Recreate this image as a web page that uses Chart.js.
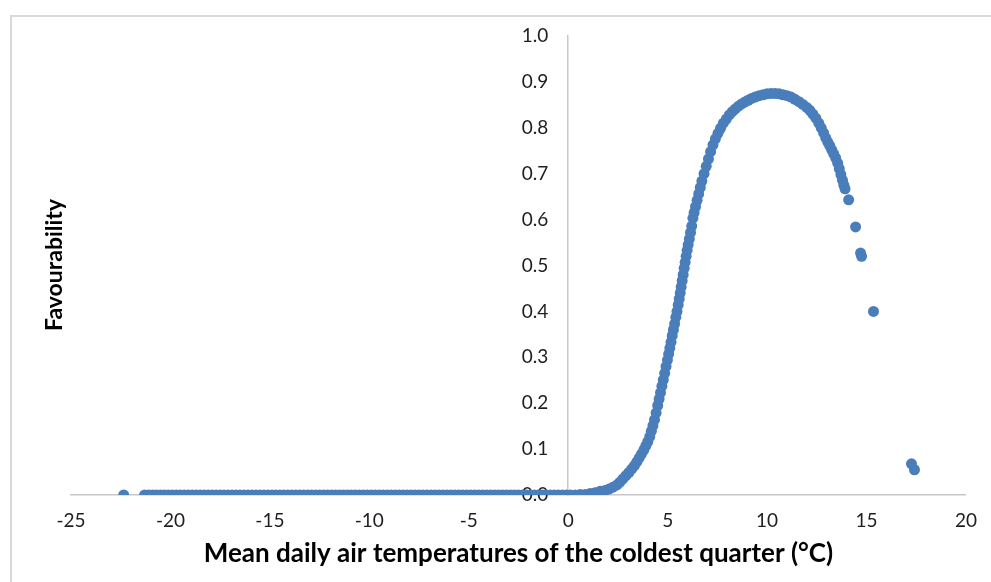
<!DOCTYPE html>
<html>
<head>
<meta charset="utf-8">
<title>Favourability vs coldest quarter temperature</title>
<script src="https://cdn.jsdelivr.net/npm/chart.js@4.4.1/dist/chart.umd.min.js"></script>
<style>
  html, body { margin: 0; padding: 0; background: #fff; }
  #wrap { position: relative; width: 991px; height: 582px; overflow: hidden; }
  #frame {
    position: absolute; left: 10px; top: 15px; width: 1000px; height: 620px;
    border: 2px solid #d9d9d9; box-sizing: border-box; pointer-events: none;
  }
  canvas { position: absolute; left: 0; top: 0; }
</style>
</head>
<body>
<div id="wrap">
  <canvas id="fav-chart" width="991" height="582"></canvas>
  <div id="frame"></div>
</div>
<script>
// cold tail: favourability sits on zero
const flatTemps = [
  -22.35, -21.3, -21.1, -20.9, -20.7, -20.5, -20.3, -20.1, -19.9, -19.7, -19.5, -19.3,
  -19.1, -18.9, -18.7, -18.5, -18.3, -18.1, -17.9, -17.7, -17.5, -17.3, -17.1, -16.9,
  -16.7, -16.5, -16.3, -16.1, -15.9, -15.7, -15.5, -15.3, -15.1, -14.9, -14.7, -14.5,
  -14.3, -14.1, -13.9, -13.7, -13.5, -13.3, -13.1, -12.9, -12.7, -12.5, -12.3, -12.1,
  -11.9, -11.7, -11.5, -11.3, -11.1, -10.9, -10.7, -10.5, -10.3, -10.1, -9.9, -9.7,
  -9.5, -9.3, -9.1, -8.9, -8.7, -8.5, -8.3, -8.1, -7.9, -7.7, -7.5, -7.3,
  -7.1, -6.9, -6.7, -6.5, -6.3, -6.1, -5.9, -5.7, -5.5, -5.3, -5.1, -4.9,
  -4.7, -4.5, -4.3, -4.1, -3.9, -3.7, -3.5, -3.3, -3.1, -2.9, -2.7, -2.5,
  -2.3, -2.1, -1.9, -1.7, -1.5, -1.3, -1.1, -0.9, -0.7, -0.5, -0.3, -0.1
];
const flatFavour = [
  0, 0, 0, 0, 0, 0, 0, 0, 0, 0, 0, 0,
  0, 0, 0, 0, 0, 0, 0, 0, 0, 0, 0, 0,
  0, 0, 0, 0, 0, 0, 0, 0, 0, 0, 0, 0,
  0, 0, 0, 0, 0, 0, 0, 0, 0, 0, 0, 0,
  0, 0, 0, 0, 0, 0, 0, 0, 0, 0, 0, 0,
  0, 0, 0, 0, 0, 0, 0, 0, 0, 0, 0, 0,
  0, 0, 0, 0, 0, 0, 0, 0, 0, 0, 0, 0,
  0, 0, 0, 0, 0, 0, 0, 0, 0, 0, 0, 0,
  0, 0, 0, 0, 0, 0, 0, 0, 0, 0, 0, 0
];

// warm side: rise, peak around 10 °C, drop-off
const curveTemps = [
  0.1, 0.35, 0.6, 0.85, 1.1, 1.35, 1.6, 1.85, 2.05, 2.25, 2.45, 2.6,
  2.75, 2.9, 3.05, 3.2, 3.33, 3.45, 3.57, 3.68, 3.8, 3.9, 4.0, 4.1,
  4.18, 4.26, 4.34, 4.42, 4.5, 4.57, 4.64, 4.71, 4.78, 4.85, 4.92, 4.99,
  5.05, 5.11, 5.17, 5.23, 5.29, 5.35, 5.41, 5.47, 5.53, 5.58, 5.63, 5.68,
  5.73, 5.78, 5.83, 5.88, 5.93, 5.98, 6.03, 6.09, 6.15, 6.21, 6.27, 6.33,
  6.40, 6.48, 6.56, 6.64, 6.72, 6.83, 6.94, 7.05, 7.16, 7.28, 7.40, 7.53,
  7.66, 7.80, 7.95, 8.10, 8.25, 8.40, 8.56, 8.72, 8.88, 9.05, 9.22, 9.40,
  9.60, 9.80, 10.0, 10.2, 10.4, 10.6, 10.8, 11.0, 11.2, 11.4, 11.6, 11.8,
  12.0, 12.15, 12.3, 12.45, 12.6, 12.72, 12.84, 12.95, 13.05, 13.15, 13.25, 13.35,
  13.45, 13.55, 13.63, 13.71, 13.79, 13.86, 13.92, 14.1, 14.45, 14.7, 14.75, 15.35,
  17.26, 17.41
];
const curveFavour = [
  0.000, 0.000, 0.001, 0.001, 0.003, 0.005, 0.008, 0.010, 0.013, 0.017, 0.022, 0.028,
  0.035, 0.042, 0.049, 0.057, 0.064, 0.072, 0.081, 0.089, 0.098, 0.107, 0.116, 0.127,
  0.139, 0.151, 0.164, 0.179, 0.195, 0.209, 0.223, 0.237, 0.251, 0.265, 0.280, 0.294,
  0.307, 0.320, 0.333, 0.347, 0.360, 0.373, 0.387, 0.400, 0.414, 0.427, 0.440, 0.453,
  0.467, 0.480, 0.494, 0.507, 0.520, 0.533, 0.545, 0.558, 0.572, 0.586, 0.603, 0.615,
  0.628, 0.642, 0.656, 0.670, 0.684, 0.700, 0.716, 0.732, 0.748, 0.763, 0.776, 0.788,
  0.799, 0.810, 0.819, 0.828, 0.835, 0.841, 0.847, 0.852, 0.856, 0.860, 0.864, 0.867,
  0.870, 0.872, 0.874, 0.875, 0.875, 0.874, 0.872, 0.870, 0.867, 0.862, 0.857, 0.851,
  0.844, 0.838, 0.830, 0.821, 0.810, 0.800, 0.789, 0.778, 0.769, 0.761, 0.752, 0.743,
  0.734, 0.723, 0.711, 0.698, 0.686, 0.675, 0.667, 0.643, 0.584, 0.527, 0.520, 0.400,
  0.068, 0.055
];

const xTicks = [-25, -20, -15, -10, -5, 0, 5, 10, 15, 20];
const yTicks = [0, 0.1, 0.2, 0.3, 0.4, 0.5, 0.6, 0.7, 0.8, 0.9, 1.0];

const FONT = 'Lato, "Open Sans", sans-serif';
const AXIS_GREY = '#c8c8c8';
const TEXT = '#1e1e1e';

const points = flatTemps.map((t, i) => ({ x: t, y: flatFavour[i] }))
  .concat(curveTemps.map((t, i) => ({ x: t, y: curveFavour[i] })));

// rotated y title on the left; the axis line itself crosses at x = 0
const yTitle = {
  id: 'yTitle',
  afterDraw(chart) {
    const ctx = chart.ctx;
    ctx.save();
    ctx.translate(62, 265);
    ctx.rotate(-Math.PI / 2);
    ctx.font = 'bold 23px ' + FONT;
    ctx.fillStyle = '#000';
    ctx.textAlign = 'center';
    ctx.textBaseline = 'alphabetic';
    ctx.fillText('Favourability', 0, 0);
    ctx.restore();
  }
};

Chart.defaults.font.family = FONT;

const tickFont = { size: 19 };

new Chart(document.getElementById('fav-chart').getContext('2d'), {
  type: 'scatter',
  data: {
    datasets: [{
      label: 'Favourability',
      data: points,
      yAxisID: 'y',
      backgroundColor: '#4a7ebb',
      borderColor: '#4a7ebb',
      borderWidth: 0,
      pointRadius: 5.5,
      pointHoverRadius: 5.5,
    }]
  },
  options: {
    responsive: false,
    animation: false,
    devicePixelRatio: 1,
    layout: { padding: { left: 71, right: 23, top: 36, bottom: 0 } },
    plugins: { legend: { display: false }, tooltip: { enabled: false } },
    scales: {
      x: {
        type: 'linear',
        min: -25, max: 20,
        afterBuildTicks: s => { s.ticks = xTicks.map(v => ({ value: v })); },
        afterFit: s => { s.height = 87; },
        grid: { display: false, drawTicks: false },
        border: { display: true, color: AXIS_GREY, width: 1.5 },
        ticks: { color: TEXT, font: tickFont, padding: 14, maxRotation: 0 },
        title: {
          display: true,
          text: 'Mean daily air temperatures of the coldest quarter (°C)',
          color: '#000',
          font: { size: 26, weight: 'bold' },
          padding: { top: 0, bottom: 13 }
        }
      },
      // axis line at x = 0
      y: {
        type: 'linear',
        position: { x: 0 },
        min: 0, max: 1,
        afterBuildTicks: s => { s.ticks = yTicks.map(v => ({ value: v })); },
        grid: { display: false, drawTicks: false },
        border: { display: true, color: AXIS_GREY, width: 1.5 },
        ticks: { display: false }
      },
      // its labels, set a little left of the line and drawn over the points
      yLabels: {
        type: 'linear',
        position: { x: -1 },
        min: 0, max: 1,
        z: 1,
        afterBuildTicks: s => { s.ticks = yTicks.map(v => ({ value: v })); },
        grid: { display: false, drawTicks: false },
        border: { display: false },
        ticks: { color: TEXT, font: tickFont, callback: v => v.toFixed(1) }
      }
    }
  },
  plugins: [yTitle]
});
</script>
</body>
</html>
